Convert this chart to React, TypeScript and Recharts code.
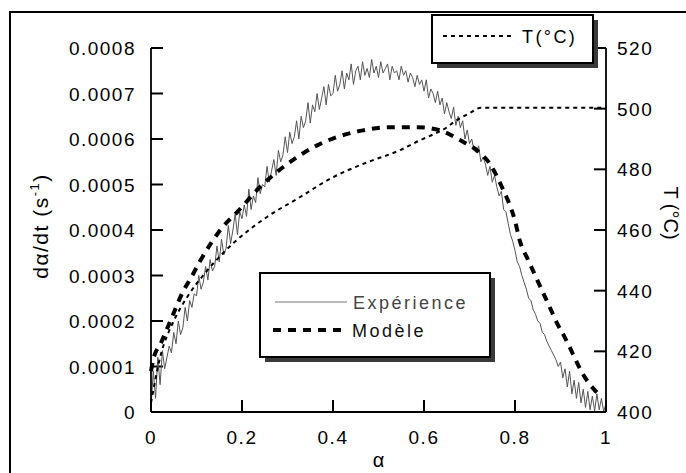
import React from 'react';
import { LineChart, Line, XAxis, YAxis, ReferenceLine } from 'recharts';

// Experimental dα/dt, in units of 1e-4 s^-1, sampled every 0.005 in α (0 → 1)
const EXP_STEP = 0.005;
const EXP_VALUES_E4 = [
  0.1, 0.9, 0.3, 1.2, 0.6, 1.35, 0.95, 1.2, 1.45, 1.3, 1.75, 1.5, 2.0, 1.7, 1.85, 2.3, 2.0, 2.45, 2.3, 2.6,
  2.55, 3.0, 2.7, 2.85, 3.2, 2.9, 3.35, 3.1, 3.2, 3.65, 3.3, 3.8, 3.45, 3.6, 4.1, 3.7, 4.0, 4.35, 3.9, 4.4,
  4.25, 4.55, 4.3, 4.9, 4.45, 4.75, 4.6, 5.15, 4.8, 5.0, 4.95, 5.4, 5.05, 5.3, 5.55, 5.2, 5.75, 5.5, 5.65, 6.05,
  5.7, 6.15, 5.9, 6.05, 6.4, 6.0, 6.5, 6.25, 6.4, 6.8, 6.35, 6.75, 6.6, 7.0, 6.65, 6.9, 7.15, 6.75, 7.2, 6.95,
  7.0, 7.4, 7.05, 7.2, 7.5, 7.1, 7.45, 7.3, 7.65, 7.2, 7.5, 7.6, 7.3, 7.7, 7.4, 7.55, 7.35, 7.75, 7.45, 7.6,
  7.35, 7.7, 7.45, 7.55, 7.65, 7.3, 7.6, 7.45, 7.5, 7.3, 7.6, 7.4, 7.5, 7.25, 7.45, 7.35, 7.15, 7.4, 7.2, 7.3,
  7.05, 7.3, 6.9, 7.1, 7.0, 6.8, 7.05, 6.75, 6.9, 6.55, 6.8, 6.6, 6.45, 6.7, 6.3, 6.5, 6.25, 6.4, 6.0, 6.2,
  5.9, 6.0, 5.75, 5.7, 5.85, 5.5, 5.6, 5.45, 5.2, 5.4, 5.05, 5.2, 4.95, 4.75, 4.85, 4.45, 4.4, 4.15, 3.9, 3.75,
  3.55, 3.3, 3.2, 3.0, 2.85, 2.7, 2.5, 2.45, 2.25, 2.15, 2.0, 1.95, 1.75, 1.7, 1.55, 1.45, 1.35, 1.25, 1.15, 1.0,
  1.1, 0.75, 0.95, 0.55, 0.9, 0.4, 0.7, 0.3, 0.65, 0.2, 0.5, 0.1, 0.45, 0.05, 0.35, 0.02, 0.4, 0.05, 0.3, 0.0, 0.2,
];

// Model dα/dt, in units of 1e-4 s^-1
const MODEL_ALPHA = [0, 0.005, 0.022, 0.037, 0.053, 0.07, 0.088, 0.107, 0.132, 0.158, 0.189, 0.24, 0.29, 0.327, 0.365, 0.408, 0.466, 0.525, 0.584, 0.635, 0.68, 0.72, 0.745, 0.771, 0.8, 0.811, 0.829, 0.844, 0.859, 0.877, 0.892, 0.91, 0.928, 0.947, 0.965, 0.98, 0.99];
const MODEL_VALUES_E4 = [0.9, 1.15, 1.52, 1.87, 2.25, 2.64, 2.95, 3.3, 3.71, 4.07, 4.39, 4.95, 5.38, 5.64, 5.86, 6.04, 6.19, 6.26, 6.26, 6.19, 5.97, 5.72, 5.45, 4.95, 4.2, 3.75, 3.34, 3.01, 2.68, 2.29, 1.96, 1.63, 1.26, 0.87, 0.6, 0.43, 0.33];

// Temperature (°C)
const T_ALPHA = [0, 0.02, 0.05, 0.08, 0.12, 0.165, 0.207, 0.255, 0.327, 0.4, 0.475, 0.547, 0.59, 0.62, 0.65, 0.665, 0.7, 0.725, 1.0];
const T_VALUES = [403, 418, 430, 438, 446, 453.4, 459, 464.3, 470.8, 477.4, 482.3, 486.3, 489.5, 491.5, 493.8, 495.5, 498.5, 500.3, 500.3];

const X_TICKS = [0, 0.2, 0.4, 0.6, 0.8, 1];
const LEFT_TICKS = [0, 0.0001, 0.0002, 0.0003, 0.0004, 0.0005, 0.0006, 0.0007, 0.0008];
const RIGHT_TICKS = [400, 420, 440, 460, 480, 500, 520];

const expData = EXP_VALUES_E4.map((v, i) => ({ a: +(i * EXP_STEP).toFixed(3), v: v / 1e4 }));
const modelData = MODEL_ALPHA.map((a, i) => ({ a, v: MODEL_VALUES_E4[i] / 1e4 }));
const tData = T_ALPHA.map((a, i) => ({ a, t: T_VALUES[i] }));

const FONT = '"Liberation Sans", Arial, Helvetica, sans-serif';
const TICK_FS = 19;
const TICK_LEN = 12;
// reference lines start at their axis side, so a single short dash gives an inward tick
const TICK_DASH = `${TICK_LEN} 2000`;

const XTick = (p: any) => (
  <text x={p.x} y={p.y} textAnchor="middle" fontFamily={FONT} fontSize={TICK_FS} letterSpacing={1.5} fill="#000">
    {String(p.payload.value)}
  </text>
);
const LTick = (p: any) => (
  <text x={p.x} y={p.y + 7} textAnchor="end" fontFamily={FONT} fontSize={TICK_FS} letterSpacing={1.5} fill="#000">
    {p.payload.value === 0 ? '0' : Number(p.payload.value).toFixed(4)}
  </text>
);
const RTick = (p: any) => (
  <text x={p.x} y={p.y + 7} textAnchor="start" fontFamily={FONT} fontSize={TICK_FS} letterSpacing={1.5} fill="#000">
    {String(p.payload.value)}
  </text>
);

export default function App() {
  return (
    <div style={{ position: 'absolute', left: 0, top: 0, width: 686, height: 473, background: '#fff', overflow: 'hidden' }}>
      <LineChart width={686} height={473} margin={{ top: 48, right: 20, left: 0, bottom: 0 }}>
        <XAxis
          type="number"
          dataKey="a"
          domain={[0, 1]}
          ticks={X_TICKS}
          tick={XTick}
          tickSize={0}
          tickMargin={32}
          height={61}
          axisLine={{ stroke: '#000', strokeWidth: 1.8 }}
          allowDuplicatedCategory={false}
        />
        <YAxis
          yAxisId="left"
          type="number"
          domain={[0, 0.0008]}
          ticks={LEFT_TICKS}
          tick={LTick}
          tickSize={0}
          tickMargin={15}
          width={151}
          axisLine={{ stroke: '#000', strokeWidth: 1.8 }}
        />
        <YAxis
          yAxisId="right"
          orientation="right"
          type="number"
          domain={[400, 520]}
          ticks={RIGHT_TICKS}
          tick={RTick}
          tickSize={0}
          tickMargin={11}
          width={60}
          axisLine={{ stroke: '#000', strokeWidth: 1.8 }}
        />
        {LEFT_TICKS.map((t) => (
          <ReferenceLine key={'lt' + t} yAxisId="left" y={t} stroke="#000" strokeWidth={2} strokeDasharray={TICK_DASH} ifOverflow="visible" />
        ))}
        {RIGHT_TICKS.map((t) => (
          <ReferenceLine key={'rt' + t} yAxisId="right" y={t} stroke="#000" strokeWidth={2} strokeDasharray={TICK_DASH} ifOverflow="visible" />
        ))}
        {X_TICKS.map((t) => (
          <ReferenceLine key={'xt' + t} yAxisId="left" x={t} stroke="#000" strokeWidth={2} strokeDasharray={TICK_DASH} ifOverflow="visible" />
        ))}
        <Line yAxisId="left" data={expData} dataKey="v" type="linear" stroke="#555" strokeWidth={1} dot={false} isAnimationActive={false} />
        <Line yAxisId="right" data={tData} dataKey="t" type="monotone" stroke="#000" strokeWidth={2} strokeDasharray="4 4" dot={false} isAnimationActive={false} />
        <Line yAxisId="left" data={modelData} dataKey="v" type="monotone" stroke="#000" strokeWidth={4} strokeDasharray="8 7" dot={false} isAnimationActive={false} />
      </LineChart>
      <svg width={686} height={473} style={{ position: 'absolute', left: 0, top: 0, pointerEvents: 'none' }}>
        <path d="M10 473 V12 H686" fill="none" stroke="#000" strokeWidth={2} />
        {/* T legend */}
        <rect x={437} y={20} width={161} height={48} fill="#3a3a3a" />
        <rect x={432} y={15} width={161} height={48} fill="#fff" stroke="#000" strokeWidth={2} />
        <line x1={443} x2={513} y1={36} y2={36} stroke="#000" strokeWidth={2} strokeDasharray="4 4" />
        <text x={522} y={43} fontFamily={FONT} fontSize={18} letterSpacing={2.4} fill="#000">T(°C)</text>
        {/* Expérience / Modèle legend */}
        <rect x={265} y={278} width={230} height={84} fill="#3a3a3a" />
        <rect x={260} y={273} width={230} height={84} fill="#fff" stroke="#000" strokeWidth={2} />
        <line x1={275} x2={347} y1={302} y2={302} stroke="#777" strokeWidth={1} />
        <text x={353} y={308.5} fontFamily={FONT} fontSize={18} letterSpacing={2.5} fill="#444">Expérience</text>
        <line x1={273} x2={344} y1={330} y2={330} stroke="#000" strokeWidth={4} strokeDasharray="8 7" />
        <text x={352} y={336.5} fontFamily={FONT} fontSize={18} letterSpacing={2.5} fill="#111">Modèle</text>
        {/* axis titles */}
        <text transform="translate(48, 226) rotate(-90)" textAnchor="middle" fontFamily={FONT} fontSize={21} letterSpacing={1.5} fill="#000">
          dα/dt (s<tspan fontSize={13} dy={-9}>-1</tspan><tspan dy={9}>)</tspan>
        </text>
        <text transform="translate(664, 213) rotate(90)" textAnchor="middle" fontFamily={FONT} fontSize={20} fill="#000">T (°C)</text>
        <text x={378.5} y={467} textAnchor="middle" fontFamily={FONT} fontSize={20} fill="#000">α</text>
      </svg>
    </div>
  );
}
